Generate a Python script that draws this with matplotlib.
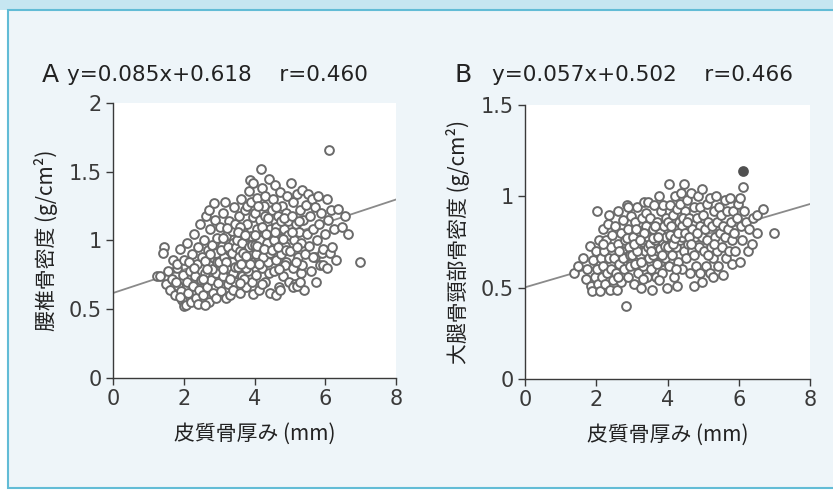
"""Cortical thickness vs. BMD scatter panels (A: lumbar spine, B: femoral neck)."""

import matplotlib
matplotlib.use("Agg")
import matplotlib.pyplot as plt
import numpy as np
from matplotlib.patches import Rectangle

plt.rcParams["font.family"] = ["Noto Sans CJK JP", "DejaVu Sans"]

# -- Palette --------------------------------------------------------------
_PANEL_BG = "#eef5f9"
_BORDER = "#62bcd6"
_TOP_STRIP = "#c6e6f1"
_AXIS = "#3a3a3a"
_TEXT = "#222222"
_MARKER_EDGE = "#6a6a6a"
_LINE = "#8a8a8a"
_LATIN = ["DejaVu Sans"]

# -- Data: (cortical thickness mm, BMD g/cm2) ------------------------------
pts_a = [
    (1.25, 0.74), (1.45, 0.95), (1.42, 0.91), (1.50, 0.68), (1.33, 0.74),
    (1.55, 0.78), (1.60, 0.64), (1.68, 0.72), (1.70, 0.86), (1.75, 0.60),
    (1.82, 0.80), (1.85, 0.67), (1.90, 0.94), (1.95, 0.57), (1.98, 0.75),
    (1.78, 0.70), (1.92, 0.63), (1.89, 0.59), (2.00, 0.52), (1.80, 0.83),
    (2.02, 0.86), (2.05, 0.53), (2.08, 0.70), (2.10, 0.98), (2.12, 0.62),
    (2.18, 0.78), (2.20, 0.55), (2.22, 0.90), (2.25, 0.67), (2.30, 1.05),
    (2.32, 0.74), (2.35, 0.58), (2.38, 0.83), (2.40, 0.95), (2.42, 0.64),
    (2.45, 1.12), (2.48, 0.71), (2.15, 0.84), (2.28, 0.80), (2.40, 0.54),
    (2.52, 0.88), (2.55, 0.60), (2.58, 1.00), (2.60, 0.76), (2.62, 1.18),
    (2.65, 0.66), (2.68, 0.93), (2.70, 0.55), (2.72, 0.83), (2.75, 1.08),
    (2.78, 0.71), (2.80, 0.97), (2.82, 0.62), (2.85, 0.87), (2.88, 1.15),
    (2.90, 0.76), (2.92, 0.58), (2.95, 1.02), (2.98, 0.69), (2.60, 0.85),
    (2.70, 1.22), (2.80, 0.79), (2.90, 0.91), (2.55, 0.72), (2.85, 1.27),
    (2.60, 0.53), (2.74, 0.90), (2.93, 0.84), (2.66, 0.79),
    (3.00, 0.84), (3.02, 1.10), (3.05, 0.63), (3.08, 0.96), (3.10, 0.74),
    (3.12, 1.20), (3.15, 0.88), (3.16, 1.28), (3.18, 0.58), (3.20, 1.03),
    (3.22, 0.80), (3.25, 0.68), (3.28, 1.14), (3.30, 0.92), (3.32, 0.60),
    (3.35, 1.07), (3.38, 0.76), (3.40, 0.98), (3.42, 1.24), (3.45, 0.70),
    (3.48, 0.87), (3.05, 0.93), (3.25, 0.95), (3.35, 0.84), (3.45, 1.12),
    (3.10, 1.02), (3.30, 0.72), (3.40, 0.64), (3.18, 0.84), (3.36, 0.91),
    (3.12, 0.79), (3.44, 0.81), (3.22, 1.09), (3.48, 0.95),
    (3.50, 1.00), (3.52, 0.81), (3.55, 1.18), (3.58, 0.62), (3.60, 0.92),
    (3.62, 1.30), (3.65, 0.74), (3.68, 1.06), (3.70, 0.86), (3.72, 1.22),
    (3.75, 0.66), (3.78, 0.97), (3.80, 1.12), (3.82, 0.78), (3.85, 1.36),
    (3.87, 1.44), (3.88, 0.90), (3.90, 1.03), (3.92, 0.70), (3.95, 1.17),
    (3.96, 1.42), (3.98, 0.84), (3.55, 0.88), (3.65, 0.98), (3.75, 0.80),
    (3.85, 0.95), (3.60, 1.10), (3.70, 0.72), (3.80, 1.25), (3.95, 0.61),
    (3.58, 0.69), (3.90, 1.28), (3.52, 1.06), (3.68, 0.91), (3.74, 1.04),
    (3.86, 0.83), (3.94, 0.97), (3.63, 0.83), (3.77, 0.89),
    (4.00, 0.97), (4.02, 1.20), (4.05, 0.75), (4.06, 1.31), (4.08, 1.08),
    (4.10, 0.88), (4.12, 0.64), (4.15, 1.15), (4.18, 1.52), (4.18, 0.95),
    (4.20, 1.38), (4.22, 0.80), (4.25, 1.03), (4.28, 1.25), (4.29, 1.32),
    (4.30, 0.70), (4.32, 0.92), (4.35, 1.12), (4.38, 0.84), (4.42, 1.45),
    (4.42, 1.00), (4.45, 0.62), (4.48, 1.22), (4.05, 0.90), (4.15, 1.00),
    (4.25, 0.88), (4.35, 0.98), (4.45, 1.08), (4.10, 1.25), (4.30, 1.18),
    (4.40, 0.76), (4.20, 0.68), (4.02, 1.04), (4.12, 0.83), (4.22, 1.10),
    (4.32, 1.05), (4.44, 0.91), (4.08, 0.96), (4.28, 0.94), (4.38, 1.16),
    (4.50, 0.93), (4.52, 1.30), (4.55, 0.78), (4.58, 1.40), (4.60, 1.10),
    (4.62, 0.86), (4.65, 1.18), (4.68, 0.66), (4.70, 1.02), (4.72, 1.35),
    (4.75, 0.90), (4.78, 1.25), (4.80, 0.74), (4.82, 1.08), (4.85, 0.96),
    (4.88, 1.20), (4.90, 0.84), (4.92, 1.32), (4.95, 1.04), (4.98, 0.70),
    (4.55, 1.00), (4.65, 0.95), (4.75, 1.14), (4.85, 0.82), (4.60, 0.60),
    (4.95, 1.14), (4.72, 0.64), (4.58, 1.06), (4.70, 0.79), (4.80, 1.01),
    (4.90, 0.93), (4.62, 1.24), (4.84, 1.16),
    (5.02, 1.42), (5.00, 0.92), (5.05, 1.18), (5.08, 0.80), (5.10, 1.28),
    (5.12, 1.00), (5.15, 0.68), (5.18, 1.12), (5.20, 1.34), (5.22, 0.88),
    (5.25, 1.06), (5.28, 1.22), (5.30, 0.76), (5.32, 0.98), (5.35, 1.37),
    (5.38, 1.15), (5.40, 0.64), (5.42, 0.90), (5.45, 1.26), (5.48, 1.05),
    (5.20, 0.95), (5.35, 0.82), (5.10, 0.66), (5.19, 0.67), (5.28, 0.70),
    (5.06, 1.06), (5.16, 0.84), (5.26, 1.14),
    (5.52, 1.34), (5.55, 0.96), (5.58, 1.18), (5.60, 0.78), (5.62, 1.30),
    (5.65, 1.08), (5.70, 0.88), (5.72, 1.24), (5.75, 0.70), (5.78, 1.00),
    (5.80, 1.32), (5.82, 1.12), (5.85, 0.82), (5.88, 1.20), (5.90, 0.91),
    (5.95, 0.94), (5.98, 1.05), (5.66, 0.88), (5.94, 0.82),
    (6.04, 1.30), (6.05, 0.80), (6.08, 1.15), (6.11, 1.66), (6.13, 0.91),
    (6.15, 1.22), (6.20, 0.95), (6.25, 1.08), (6.30, 0.86), (6.37, 1.23),
    (6.46, 1.10), (6.55, 1.18), (6.65, 1.05), (6.98, 0.84),
]

pts_b = [
    (1.38, 0.58), (1.50, 0.62), (1.62, 0.66), (1.70, 0.55), (1.75, 0.60),
    (1.81, 0.73), (1.85, 0.51), (1.87, 0.48), (1.90, 0.65), (1.95, 0.56),
    (2.01, 0.92), (1.98, 0.70),
    (2.02, 0.60), (2.05, 0.52), (2.08, 0.76), (2.11, 0.48), (2.12, 0.66),
    (2.15, 0.56), (2.18, 0.82), (2.20, 0.62), (2.22, 0.70), (2.25, 0.52),
    (2.28, 0.76), (2.30, 0.58), (2.32, 0.85), (2.35, 0.66), (2.38, 0.49),
    (2.40, 0.72), (2.42, 0.60), (2.45, 0.79), (2.48, 0.54), (2.20, 0.74),
    (2.35, 0.90),
    (2.50, 0.66), (2.52, 0.84), (2.55, 0.58), (2.57, 0.49), (2.60, 0.74),
    (2.62, 0.92), (2.65, 0.63), (2.68, 0.80), (2.70, 0.53), (2.72, 0.70),
    (2.75, 0.87), (2.78, 0.60), (2.80, 0.76), (2.82, 0.67), (2.84, 0.40),
    (2.85, 0.95), (2.88, 0.56), (2.90, 0.82), (2.92, 0.72), (2.95, 0.62),
    (2.98, 0.89), (2.60, 0.56), (2.75, 0.66), (2.90, 0.94), (2.65, 0.70),
    (2.86, 0.77), (2.96, 0.68),
    (3.00, 0.68), (3.02, 0.78), (3.05, 0.52), (3.08, 0.86), (3.10, 0.63),
    (3.12, 0.73), (3.15, 0.94), (3.18, 0.58), (3.20, 0.81), (3.22, 0.68),
    (3.25, 0.50), (3.28, 0.88), (3.30, 0.75), (3.32, 0.62), (3.35, 0.97),
    (3.38, 0.70), (3.40, 0.84), (3.42, 0.56), (3.45, 0.78), (3.46, 0.97),
    (3.48, 0.66), (3.15, 0.70), (3.30, 0.55), (3.40, 0.91), (3.05, 0.74),
    (3.25, 0.64), (3.12, 0.82), (3.34, 0.80), (3.44, 0.72), (3.22, 0.76),
    (3.50, 0.74), (3.52, 0.88), (3.55, 0.60), (3.56, 0.49), (3.58, 0.82),
    (3.60, 0.68), (3.62, 0.95), (3.65, 0.76), (3.68, 0.56), (3.70, 0.86),
    (3.72, 0.70), (3.75, 1.00), (3.78, 0.64), (3.80, 0.80), (3.82, 0.92),
    (3.85, 0.58), (3.88, 0.95), (3.88, 0.74), (3.90, 0.84), (3.92, 0.66),
    (3.95, 0.78), (3.98, 0.50), (3.60, 0.77), (3.70, 0.63), (3.80, 0.71),
    (3.95, 0.88), (3.55, 0.70), (3.75, 0.54), (3.66, 0.84), (3.84, 0.68),
    (3.92, 0.73), (3.74, 0.78),
    (4.03, 1.07), (4.00, 0.72), (4.02, 0.86), (4.05, 0.62), (4.08, 0.95),
    (4.10, 0.78), (4.12, 0.68), (4.15, 0.90), (4.18, 0.56), (4.20, 1.00),
    (4.22, 0.82), (4.25, 0.72), (4.26, 0.51), (4.28, 0.93), (4.30, 0.64),
    (4.32, 0.86), (4.35, 0.76), (4.38, 1.02), (4.40, 0.60), (4.42, 0.84),
    (4.45, 0.70), (4.47, 1.07), (4.48, 0.92), (4.10, 0.84), (4.25, 0.60),
    (4.40, 0.78), (4.15, 0.74), (4.35, 0.96), (4.06, 0.79), (4.20, 0.77),
    (4.30, 0.80), (4.44, 0.88),
    (4.50, 0.80), (4.52, 0.66), (4.55, 0.98), (4.58, 0.74), (4.60, 0.88),
    (4.62, 0.58), (4.65, 1.02), (4.68, 0.82), (4.70, 0.70), (4.73, 0.51),
    (4.75, 0.94), (4.78, 0.78), (4.80, 0.62), (4.82, 0.88), (4.85, 1.00),
    (4.88, 0.72), (4.90, 0.84), (4.92, 0.58), (4.96, 1.04), (4.96, 0.53),
    (4.98, 0.78), (4.60, 0.78), (4.75, 0.68), (4.90, 0.94), (4.55, 0.86),
    (4.66, 0.74), (4.84, 0.80),
    (5.00, 0.90), (5.02, 0.70), (5.05, 0.82), (5.08, 0.62), (5.10, 0.96),
    (5.12, 0.76), (5.15, 0.86), (5.18, 0.58), (5.20, 0.99), (5.22, 0.72),
    (5.25, 0.84), (5.28, 0.66), (5.29, 0.56), (5.30, 0.92), (5.32, 0.78),
    (5.35, 1.00), (5.38, 0.70), (5.40, 0.86), (5.42, 0.62), (5.45, 0.94),
    (5.48, 0.80), (5.15, 0.68), (5.30, 0.74),
    (5.50, 0.90), (5.52, 0.72), (5.55, 0.84), (5.57, 0.57), (5.60, 0.98),
    (5.62, 0.78), (5.65, 0.66), (5.68, 0.92), (5.70, 0.82), (5.72, 0.70),
    (5.76, 0.99), (5.78, 0.86), (5.80, 0.63), (5.82, 0.76), (5.85, 0.92),
    (5.88, 0.80), (5.90, 0.70), (5.95, 0.88), (5.98, 0.96),
    (6.04, 0.99), (6.04, 0.64), (6.06, 0.84), (6.10, 0.76), (6.11, 1.05),
    (6.15, 0.92), (6.20, 0.86), (6.25, 0.70), (6.30, 0.82), (6.37, 0.74),
    (6.40, 0.88), (6.51, 0.90), (6.51, 0.80), (6.69, 0.93), (6.98, 0.80),
]
highlight_b = [(6.11, 1.14)]  # the single filled point in panel B

# Regression lines: (slope, intercept, r)
fit_a = (0.085, 0.618, 0.460)
fit_b = (0.057, 0.502, 0.466)

x_ticks = [0, 2, 4, 6, 8]
y_ticks_a = [0, 0.5, 1, 1.5, 2]
y_ticks_b = [0, 0.5, 1, 1.5]
x_label = "皮質骨厚み (mm)"
y_label_a = "腰椎骨密度 (g/cm²)"
y_label_b = "大腿骨頸部骨密度 (g/cm²)"


def _fmt(v):
    return "0" if v == 0 else f"{v:g}"


def _panel(ax, pts, fit, yticks, ylabel, extra=None):
    ax.set_facecolor("white")
    pts = np.array(pts)
    ax.scatter(pts[:, 0], pts[:, 1], s=40, facecolors="white",
               edgecolors=_MARKER_EDGE, linewidths=1.4, zorder=3)
    if extra:
        ex = np.array(extra)
        ax.scatter(ex[:, 0], ex[:, 1], s=40, facecolors="#505050",
                   edgecolors="#505050", linewidths=1.4, zorder=4)
    slope, icpt, _ = fit
    xs = np.array([0, 8])
    ax.plot(xs, slope * xs + icpt, color=_LINE, linewidth=1.3, zorder=2)

    ax.set_xlim(0, 8)
    ax.set_ylim(0, yticks[-1])
    ax.set_xticks(x_ticks)
    ax.set_xticklabels([str(t) for t in x_ticks], family=_LATIN)
    ax.set_yticks(yticks)
    ax.set_yticklabels([_fmt(t) for t in yticks], family=_LATIN)
    ax.tick_params(direction="out", length=5, width=1, colors=_AXIS,
                   labelsize=15, pad=3)
    for side in ("top", "right"):
        ax.spines[side].set_visible(False)
    for side in ("left", "bottom"):
        ax.spines[side].set_color(_AXIS)
        ax.spines[side].set_linewidth(1)
    ax.set_xlabel(x_label, fontsize=15, color=_TEXT, labelpad=10)
    ax.set_ylabel(ylabel, fontsize=15, color=_TEXT, labelpad=8)


fig = plt.figure(figsize=(8.33, 4.93), dpi=100, facecolor="white")
fig.patches.append(Rectangle((0, 483 / 493), 1.0, 10 / 493,
                             transform=fig.transFigure, facecolor=_TOP_STRIP,
                             edgecolor="none", zorder=-2))
fig.patches.append(Rectangle((8 / 833, 5 / 493), 1.0, 478 / 493,
                             transform=fig.transFigure, facecolor=_PANEL_BG,
                             edgecolor=_BORDER, linewidth=1.5, zorder=-1))

ax_a = fig.add_axes([0.1357, 0.2333, 0.3397, 0.5578])
ax_b = fig.add_axes([0.6303, 0.2312, 0.3421, 0.5558])

_panel(ax_a, pts_a, fit_a, y_ticks_a, y_label_a)
_panel(ax_b, pts_b, fit_b, y_ticks_b, y_label_b, extra=highlight_b)

for letter, fit, x_letter, x_eq in (("A", fit_a, 42, 67), ("B", fit_b, 455, 492)):
    slope, icpt, r = fit
    fig.text(x_letter / 833, 1 - 75 / 493, letter, fontsize=18,
             va="center", ha="left", color=_TEXT, family=_LATIN)
    fig.text(x_eq / 833, 1 - 75 / 493,
             f"y={slope:.3f}x+{icpt:.3f}    r={r:.3f}",
             fontsize=15.5, va="center", ha="left", color=_TEXT, family=_LATIN)

fig.savefig("out.png", dpi=100, facecolor=fig.get_facecolor())
